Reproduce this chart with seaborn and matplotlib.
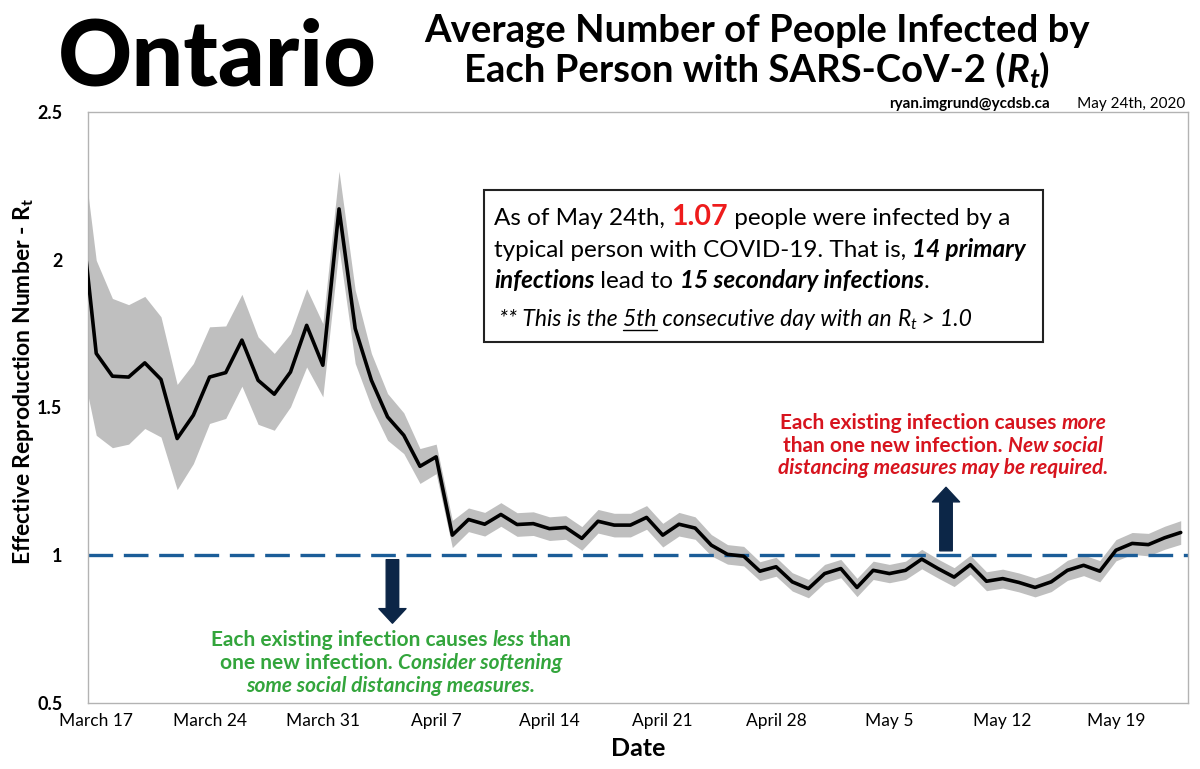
import numpy as np
import pandas as pd
import matplotlib
matplotlib.use('Agg')
from matplotlib import pyplot as plt
from matplotlib.transforms import IdentityTransform
from matplotlib.patches import Rectangle
from matplotlib.lines import Line2D
import seaborn as sns

# daily Rt estimate with its credible band, March 16 - May 23
start = '2020-03-16'
rt = [2.19,
      1.683, 1.606, 1.603, 1.651, 1.595, 1.395, 1.474, 1.603, 1.618, 1.728,
      1.592, 1.545, 1.620, 1.778, 1.643, 2.172, 1.767, 1.592, 1.468, 1.406,
      1.301, 1.333, 1.068, 1.121, 1.105, 1.138, 1.104, 1.107, 1.090, 1.094,
      1.057, 1.115, 1.102, 1.102, 1.128, 1.068, 1.105, 1.092, 1.034, 1.003,
      0.997, 0.946, 0.961, 0.910, 0.887, 0.938, 0.955, 0.891, 0.949, 0.938,
      0.949, 0.987, 0.955, 0.926, 0.968, 0.912, 0.921, 0.908, 0.891, 0.910,
      0.949, 0.966, 0.946, 1.017, 1.040, 1.036, 1.059, 1.077]
rt_hi = [2.44,
         1.998, 1.869, 1.848, 1.876, 1.807, 1.578, 1.649, 1.773, 1.776, 1.883,
         1.739, 1.683, 1.750, 1.902, 1.784, 2.300, 1.897, 1.683, 1.547, 1.482,
         1.361, 1.376, 1.118, 1.160, 1.145, 1.178, 1.144, 1.147, 1.130, 1.134,
         1.097, 1.155, 1.142, 1.142, 1.168, 1.108, 1.145, 1.130, 1.070, 1.036,
         1.030, 0.978, 0.993, 0.941, 0.918, 0.969, 0.986, 0.922, 0.980, 0.969,
         0.980, 1.020, 0.987, 0.958, 1.000, 0.944, 0.953, 0.940, 0.923, 0.943,
         0.983, 1.001, 0.982, 1.053, 1.077, 1.074, 1.098, 1.117]
rt_lo = [1.67,
         1.406, 1.364, 1.376, 1.429, 1.400, 1.222, 1.310, 1.446, 1.463, 1.572,
         1.443, 1.423, 1.502, 1.637, 1.536, 2.040, 1.649, 1.502, 1.389, 1.344,
         1.243, 1.276, 1.026, 1.080, 1.065, 1.098, 1.064, 1.067, 1.050, 1.054,
         1.017, 1.075, 1.062, 1.062, 1.088, 1.028, 1.065, 1.054, 0.998, 0.970,
         0.964, 0.914, 0.929, 0.879, 0.856, 0.907, 0.924, 0.860, 0.918, 0.907,
         0.918, 0.954, 0.923, 0.894, 0.936, 0.880, 0.889, 0.876, 0.859, 0.877,
         0.915, 0.931, 0.910, 0.981, 1.003, 0.998, 1.020, 1.037]
tick_labels = ['March 17', 'March 24', 'March 31', 'April 7', 'April 14',
               'April 21', 'April 28', 'May 5', 'May 12', 'May 19']
ytick_vals = [0.5, 1, 1.5, 2, 2.5]
ytick_labels = ['0.5', '1', '1.5', '2', '2.5']

dates = pd.date_range(start, periods=len(rt))
df = pd.DataFrame({'Date': dates, 'Rt': rt, 'lo': rt_lo, 'hi': rt_hi})

sns.set_style('white')
plt.rcParams['font.family'] = ['Lato', 'DejaVu Sans']
plt.rcParams.update({'text.color': 'black', 'axes.labelcolor': 'black',
                     'xtick.color': 'black', 'ytick.color': 'black',
                     'mathtext.fontset': 'custom', 'mathtext.rm': 'Lato',
                     'mathtext.it': 'Lato:italic', 'mathtext.bf': 'Lato:bold'})
has_bfit = 'mathtext.bfit' in plt.rcParams
if has_bfit:
    plt.rcParams['mathtext.bfit'] = 'Lato:bold:italic'

W, H = 1200, 769
fig = plt.figure(figsize=(W / 100, H / 100), dpi=100)
ax = fig.add_axes([87.5 / W, 1 - 703 / H, 1100.5 / W, 591 / H])

RED = '#d7141e'
GREEN = '#33a53c'
NAVY = '#0c2647'

ax.fill_between(df['Date'], df['lo'], df['hi'], color='#bfbfbf', lw=0, zorder=1)
sns.lineplot(data=df, x='Date', y='Rt', ax=ax, color='black', lw=2.6, zorder=3)
ax.axhline(1, color='#1b5d98', lw=2.4, dashes=(7.4, 3.2), zorder=2)

d0 = pd.Timestamp('2020-03-17')
ax.set_xlim(d0 - pd.Timedelta(days=0.54), d0 + pd.Timedelta(days=67.45))
ax.set_ylim(0.5, 2.5)
ax.set_xticks(pd.date_range(d0, periods=len(tick_labels), freq='7D'))
ax.set_xticklabels(tick_labels, fontsize=12.5)
ax.set_yticks(ytick_vals)
ax.set_yticklabels(ytick_labels, fontsize=13, fontweight='bold')
ax.tick_params(axis='y', length=0, pad=18)
ax.tick_params(axis='x', length=0, pad=7)
for s in ax.spines.values():
    s.set_visible(True)
    s.set_color('#b3b3b3')
    s.set_linewidth(1.0)

ax.set_xlabel('Date', fontsize=18, fontweight='bold', labelpad=6)
ax.set_ylabel('Effective Reproduction Number - R$_\\mathbf{t}$', fontsize=16.5,
              fontweight='bold')
ax.yaxis.set_label_coords(-0.047, 0.545)

# arrows pointing away from the Rt = 1 line
arrow_style = 'simple,head_width=2.6,head_length=1.4,tail_width=1.2'
ax.annotate('', xy=(d0 + pd.Timedelta(days=52.5), 1.23),
            xytext=(d0 + pd.Timedelta(days=52.5), 1.015),
            arrowprops=dict(arrowstyle=arrow_style, color=NAVY, shrinkA=0,
                            shrinkB=0, mutation_scale=7.5), zorder=4)
ax.annotate('', xy=(d0 + pd.Timedelta(days=18.3), 0.77),
            xytext=(d0 + pd.Timedelta(days=18.3), 0.985),
            arrowprops=dict(arrowstyle=arrow_style, color=NAVY, shrinkA=0,
                            shrinkB=0, mutation_scale=7.5), zorder=4)

renderer = fig.canvas.get_renderer()


def width_of(s, kw):
    t = fig.text(0, 0, '|' + s + '|', transform=IdentityTransform(), **kw)
    w1 = t.get_window_extent(renderer).width
    t.set_text('||')
    w2 = t.get_window_extent(renderer).width
    t.remove()
    return w1 - w2


def runs_line(runs, x, y, ha='left'):
    widths = [width_of(s, kw) for s, kw in runs]
    total = sum(widths)
    cx = {'left': x, 'center': x - total / 2, 'right': x - total}[ha]
    out = []
    for (s, kw), w in zip(runs, widths):
        t = fig.text(cx, H - y, s, transform=IdentityTransform(),
                     va='baseline', ha='left', **kw)
        out.append((t, cx, w))
        cx += w
    return out


# header
fig.text(58, H - 86, 'Ontario', transform=IdentityTransform(), fontsize=66,
         fontweight='black', va='baseline')
bi_R = '$\\mathbfit{R_t}$' if has_bfit else '$\\mathit{R_t}$'
hd = dict(fontsize=27.5, fontweight='bold')
runs_line([('Average Number of People Infected by', hd)], 757, 42, ha='center')
runs_line([('Each Person with SARS-CoV-2 (', hd), (bi_R, hd), (')', hd)],
          757, 82, ha='center')
runs_line([('ryan.imgrund@ycdsb.ca', dict(fontsize=11, fontweight='bold')),
           ('       May 24th, 2020', dict(fontsize=11))], 1185, 108, ha='right')

# summary box
fig.add_artist(Rectangle((484, H - 342), 559, 152, transform=IdentityTransform(),
                         facecolor='white', edgecolor='#222222', lw=1.5, zorder=5))
sb = dict(fontsize=17.5, zorder=6)
bi = dict(fontsize=17.5, fontweight='bold', fontstyle='italic', zorder=6)
runs_line([('As of May 24th, ', sb),
           ('1.07', dict(fontsize=20.5, fontweight='bold', color='#ee1c1c', zorder=6)),
           (' people were infected by a', sb)], 494, 225)
runs_line([('typical person with COVID-19. That is, ', sb), ('14 primary', bi)], 494, 257)
runs_line([('infections', bi), (' lead to ', sb), ('15 secondary infections', bi),
           ('.', sb)], 494, 288)
it = dict(fontsize=16.5, fontstyle='italic', zorder=6)
foot = runs_line([('** This is the ', it), ('5th', it),
                  (' consecutive day with an ', it), ('$R_t$', it),
                  (' > 1.0', it)], 499, 326)
_, ux, uw = foot[1]
fig.add_artist(Line2D([ux, ux + uw], [H - 330, H - 330], transform=IdentityTransform(),
                      color='black', lw=1.0, zorder=6))

# red / green notes
rb = dict(fontsize=15, fontweight='bold', color=RED)
rbi = dict(fontsize=15, fontweight='bold', fontstyle='italic', color=RED)
runs_line([('Each existing infection causes ', rb), ('more', rbi)], 943, 429, ha='center')
runs_line([('than one new infection. ', rb), ('New social', rbi)], 943, 452, ha='center')
runs_line([('distancing measures may be required.', rbi)], 943, 474, ha='center')

gb = dict(fontsize=15, fontweight='bold', color=GREEN)
gbi = dict(fontsize=15, fontweight='bold', fontstyle='italic', color=GREEN)
runs_line([('Each existing infection causes ', gb), ('less', gbi), (' than', gb)],
          391, 646, ha='center')
runs_line([('one new infection. ', gb), ('Consider softening', gbi)], 391, 669, ha='center')
runs_line([('some social distancing measures.', gbi)], 391, 692, ha='center')

fig.savefig('out.png', dpi=100, facecolor='white')
